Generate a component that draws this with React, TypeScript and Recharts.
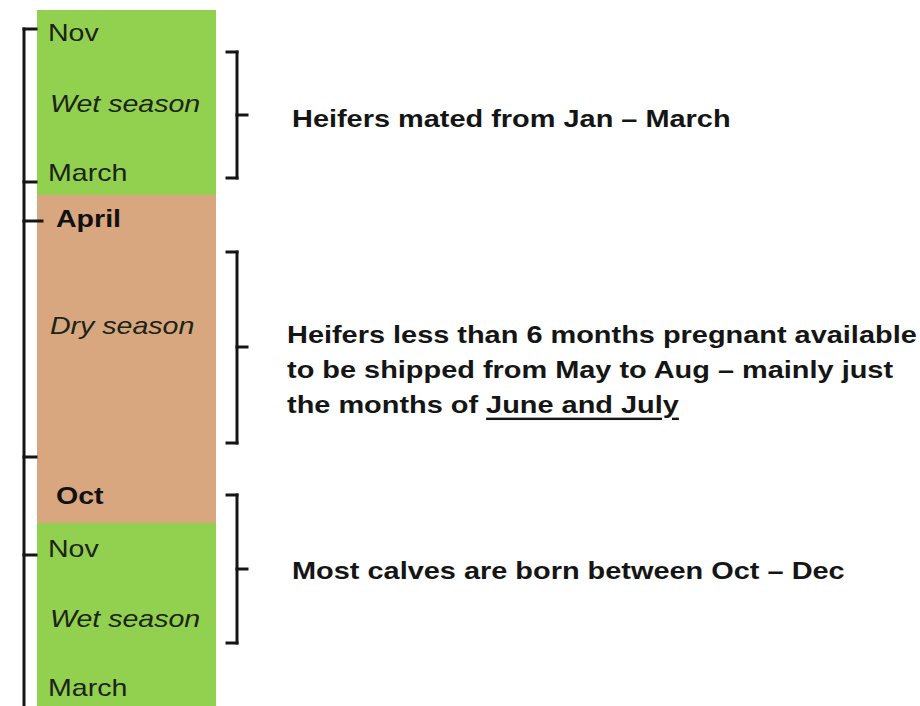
import React from "react";
import {
  ComposedChart,
  XAxis,
  YAxis,
  Scatter,
  ReferenceArea,
  ReferenceLine,
} from "recharts";

// vertical axis = position along the season timeline (top to bottom)
const seasonBands = [
  { name: "Wet season", start: 10, end: 195, color: "#92D050" },
  { name: "Dry season", start: 195, end: 523, color: "#D8A77F" },
  { name: "Wet season", start: 523, end: 706, color: "#92D050" },
];

const timelineLabels = [
  { label: "Nov", y: 33, kind: "month" },
  { label: "Wet season", y: 104, kind: "season" },
  { label: "March", y: 173, kind: "month" },
  { label: "April", y: 219, kind: "boundary" },
  { label: "Dry season", y: 326, kind: "season" },
  { label: "Oct", y: 496, kind: "boundary" },
  { label: "Nov", y: 549, kind: "month" },
  { label: "Wet season", y: 619, kind: "season" },
  { label: "March", y: 688, kind: "month" },
];

const timelineTicks = [
  { y: 29, major: false },
  { y: 182, major: false },
  { y: 221, major: true },
  { y: 457, major: false },
  { y: 555, major: false },
];

const brackets = [
  { top: 52, bottom: 178, mid: 115 },
  { top: 252, bottom: 443, mid: 347 },
  { top: 495, bottom: 643, mid: 569 },
];

const noteLines = [
  { y: 119, block: "single", parts: [{ t: "Heifers mated from Jan – March" }] },
  { y: 335, block: "para", parts: [{ t: "Heifers less than 6 months pregnant available" }] },
  { y: 370, block: "para", parts: [{ t: "to be shipped from May to Aug – mainly just" }] },
  { y: 405, block: "para", parts: [{ t: "the months of " }, { t: "June and July", u: true }] },
  { y: 571, block: "single", parts: [{ t: "Most calves are born between Oct – Dec" }] },
];

const W = 920;
const H = 706;
const BAND_X1 = 37;
const BAND_X2 = 216;
const AXIS_X = 24;
const BRACKET_X = 237;
const LABEL_SCALE = 1.19;
const NOTE_SCALE = 1.205;
const INK = "#151515";
const FONT = "'Liberation Sans', Arial, sans-serif";
const LABEL_X: Record<string, number> = { month: 48, season: 50, boundary: 56 };
const NOTE_X: Record<string, number> = { single: 292, para: 287 };

const labelData = timelineLabels.map((d) => ({ ...d, x: LABEL_X[d.kind] }));
const noteData = noteLines.map((d) => ({ ...d, x: NOTE_X[d.block] }));

const LabelShape = (props: any) => {
  const { cx, cy, payload } = props;
  const bold = payload.kind === "boundary";
  const italic = payload.kind === "season";
  return (
    <text
      transform={`translate(${cx},${cy}) scale(${LABEL_SCALE},1)`}
      dominantBaseline="central"
      fontFamily={FONT}
      fontSize={24}
      fontWeight={bold ? 700 : 400}
      fontStyle={italic ? "italic" : "normal"}
      fill={bold ? "#111" : "#1c2416"}
    >
      {payload.label}
    </text>
  );
};

const NoteShape = (props: any) => {
  const { cx, cy, payload } = props;
  return (
    <text
      transform={`translate(${cx},${cy}) scale(${NOTE_SCALE},1)`}
      dominantBaseline="central"
      fontFamily={FONT}
      fontSize={24}
      fontWeight={700}
      fill={INK}
      style={{ whiteSpace: "pre" }}
    >
      {payload.parts.map((p: any, i: number) => (
        <tspan key={i} textDecoration={p.u ? "underline" : undefined}>
          {p.t}
        </tspan>
      ))}
    </text>
  );
};

export default function App() {
  const line = { stroke: INK, strokeWidth: 3, strokeLinecap: "square" as const };
  return (
    <div style={{ position: "absolute", left: 0, top: 0, width: W, height: H, background: "#fff" }}>
      <ComposedChart width={W} height={H} margin={{ top: 0, right: 0, bottom: 0, left: 0 }}>
        <XAxis type="number" dataKey="x" domain={[0, W]} hide allowDataOverflow />
        <YAxis type="number" dataKey="y" domain={[0, H]} reversed hide allowDataOverflow />

        {seasonBands.map((b, i) => (
          <ReferenceArea
            key={`band-${i}`}
            x1={BAND_X1}
            x2={BAND_X2}
            y1={b.start}
            y2={b.end}
            fill={b.color}
            fillOpacity={1}
            stroke="none"
          />
        ))}

        <ReferenceLine segment={[{ x: AXIS_X, y: timelineTicks[0].y }, { x: AXIS_X, y: H }]} {...line} />
        {timelineTicks.map((t, i) => (
          <ReferenceLine
            key={`tick-${i}`}
            segment={[{ x: AXIS_X, y: t.y }, { x: t.major ? 42 : 36, y: t.y }]}
            {...line}
          />
        ))}

        {brackets.map((b, i) => (
          <React.Fragment key={`br-${i}`}>
            <ReferenceLine segment={[{ x: BRACKET_X, y: b.top }, { x: BRACKET_X, y: b.bottom }]} {...line} />
            <ReferenceLine segment={[{ x: BRACKET_X - 10, y: b.top }, { x: BRACKET_X, y: b.top }]} {...line} />
            <ReferenceLine segment={[{ x: BRACKET_X - 10, y: b.bottom }, { x: BRACKET_X, y: b.bottom }]} {...line} />
            <ReferenceLine segment={[{ x: BRACKET_X, y: b.mid }, { x: BRACKET_X + 10, y: b.mid }]} {...line} />
          </React.Fragment>
        ))}

        <Scatter data={labelData} shape={LabelShape} isAnimationActive={false} legendType="none" />
        <Scatter data={noteData} shape={NoteShape} isAnimationActive={false} legendType="none" />
      </ComposedChart>
    </div>
  );
}
